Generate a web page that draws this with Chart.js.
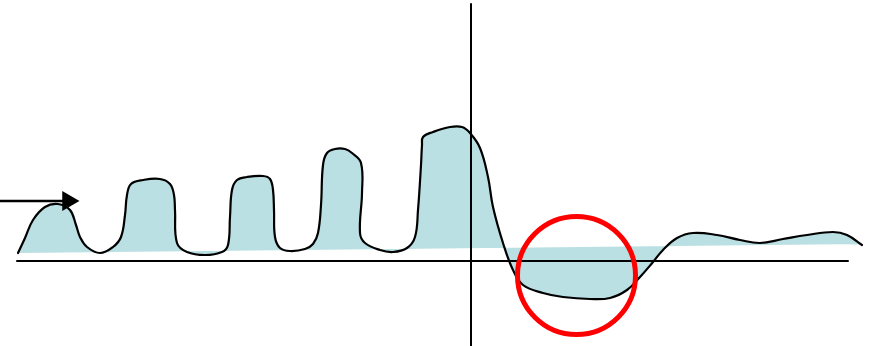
<!DOCTYPE html>
<html>
<head>
<meta charset="utf-8">
<script src="https://cdn.jsdelivr.net/npm/chart.js@4.4.1/dist/chart.umd.min.js"></script>
<style>
  html, body { margin: 0; padding: 0; background: #fff; }
  #wrap { width: 869px; height: 346px; }
</style>
</head>
<body>
<div id="wrap"><canvas id="sketch" width="869" height="346"></canvas></div>
<script>
// curve (origin = where the two axes cross)
const curveX = [-453, -446, -438, -426, -413, -401, -395, -391, -384, -371,
    -358, -350, -346, -344, -340, -328, -311, -301, -297, -296,
    -294, -284, -266, -249, -243, -241, -239, -234, -224, -208,
    -201, -198, -197, -196, -191, -181, -166, -158, -153, -150,
    -148, -144, -136, -126, -119, -110, -109, -111, -106, -91,
    -78, -64, -56, -53, -50, -49, -48, -38, -21, -9,
    -1, 9, 17, 22, 32, 42, 52, 72, 92, 119,
    139, 156, 169, 182, 192, 206, 222, 246, 269, 289,
    312, 336, 362, 376, 391];
const curveY = [8, 23, 41, 54, 57, 51, 36, 24, 14, 8,
    14, 24, 46, 66, 77, 81, 82, 77, 66, 51,
    18, 9, 6, 9, 16, 44, 71, 81, 84, 85,
    82, 71, 51, 24, 13, 10, 12, 17, 28, 56,
    96, 108, 112, 112, 108, 98, 68, 28, 18, 11,
    9, 13, 24, 51, 96, 116, 124, 129, 134, 134,
    128, 113, 84, 54, 18, -9, -24, -32, -36, -38,
    -37, -29, -16, -1, 11, 23, 28, 26, 21, 18,
    22, 26, 29, 26, 16];

// slanted base the shading is filled to
const baseX = [-453, 391];
const baseY = [8, 17];

// axes, arrow, circle
const hAxisX = [-454, 377];
const vAxisY = [257, -90];
const arrowX = [-475, -403];
const arrowY = 60;
const ringX = 105.5;
const ringY = -14.5;

const toPts = (xs, ys) => xs.map((x, i) => ({ x: x, y: ys[i] }));
const shade = "#bae0e3";

const datasets = [
    {
        // red ring
        data: [{ x: ringX, y: ringY }],
        pointRadius: 59,
        pointStyle: "circle",
        borderColor: "#ff0000",
        backgroundColor: "rgba(0,0,0,0)",
        borderWidth: 5,
        showLine: false,
        order: 0,
    },
    {
        // base line (invisible), fill target
        data: toPts(baseX, baseY),
        showLine: true,
        borderWidth: 0,
        borderColor: "rgba(0,0,0,0)",
        pointRadius: 0,
        fill: false,
        order: 5,
    },
    {
        data: toPts(curveX, curveY),
        showLine: true,
        borderColor: "#000",
        borderWidth: 2.2,
        pointRadius: 0,
        tension: 0.4,
        fill: { target: 1, above: shade, below: shade },
        order: 1,
    },
    {
        data: toPts(hAxisX, [0, 0]),
        showLine: true,
        borderColor: "#000",
        borderWidth: 2,
        pointRadius: 0,
        order: 3,
    },
    {
        data: toPts([0, 0], vAxisY),
        showLine: true,
        borderColor: "#000",
        borderWidth: 2,
        pointRadius: 0,
        order: 3,
    },
    {
        // arrow shaft + head
        data: toPts(arrowX, [arrowY, arrowY]),
        showLine: true,
        borderColor: "#000",
        backgroundColor: "#000",
        borderWidth: 2.5,
        pointStyle: "triangle",
        pointRotation: 90,
        pointRadius: [0, 9],
        order: 2,
    },
];

new Chart(document.getElementById("sketch").getContext("2d"), {
    type: "scatter",
    data: { datasets: datasets },
    options: {
        responsive: false,
        animation: false,
        layout: { padding: 0, autoPadding: false },
        scales: {
            x: { type: "linear", min: -471, max: 398, display: false },
            y: { type: "linear", min: -85, max: 261, display: false },
        },
        plugins: {
            legend: { display: false },
            tooltip: { enabled: false },
            filler: { drawTime: "beforeDatasetsDraw" },
        },
        elements: { line: { borderCapStyle: "round", borderJoinStyle: "round" } },
    },
});
</script>
</body>
</html>
